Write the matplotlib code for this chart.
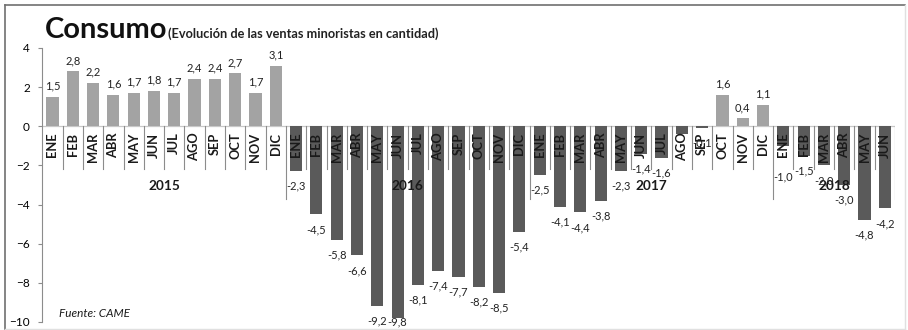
import numpy as np
import matplotlib
matplotlib.use('Agg')
import matplotlib.pyplot as plt
from matplotlib.lines import Line2D

plt.rcParams['font.family'] = ['Lato', 'DejaVu Sans']

YEARS = ['2015', '2016', '2017', '2018']
MONTHS = ['ENE', 'FEB', 'MAR', 'ABR', 'MAY', 'JUN',
          'JUL', 'AGO', 'SEP', 'OCT', 'NOV', 'DIC']
MONTHS_PER_YEAR = [12, 12, 12, 6]

VALUES_2015 = [1.5, 2.8, 2.2, 1.6, 1.7, 1.8, 1.7, 2.4, 2.4, 2.7, 1.7, 3.1]
VALUES_2016 = [-2.3, -4.5, -5.8, -6.6, -9.2, -9.8, -8.1, -7.4, -7.7, -8.2, -8.5, -5.4]
VALUES_2017 = [-2.5, -4.1, -4.4, -3.8, -2.3, -1.4, -1.6, -0.4, -0.1, 1.6, 0.4, 1.1]
VALUES_2018 = [-1.0, -1.5, -2.0, -3.0, -4.8, -4.2]

# labels that are hidden in the chart (value still drawn as a bar)
HIDDEN_LABELS = {(2017, 'AGO')}
# labels moved away from the month text
LABEL_Y_OVERRIDE = {(2018, 'ENE'): -2.6}

POS_COLOR = '#a3a3a3'
NEG_COLOR = '#5a5a5a'
AXIS_COLOR = '#8c8c8c'


def fmt(v):
    return f'{v:.1f}'.replace('.', ',')


def main():
    values = VALUES_2015 + VALUES_2016 + VALUES_2017 + VALUES_2018
    months = []
    years = []
    for y, n in zip(YEARS, MONTHS_PER_YEAR):
        months += MONTHS[:n]
        years += [int(y)] * n
    x = np.arange(len(values))

    fig = plt.figure(figsize=(9.08, 3.30), dpi=100)
    ax = fig.add_axes([42.3 / 908, 8 / 330, (895 - 42.3) / 908, (322 - 48) / 330])

    colors = [POS_COLOR if v > 0 else NEG_COLOR for v in values]
    ax.bar(x, values, width=0.6, color=colors, zorder=2)

    ax.set_xlim(-0.5, len(values) - 0.5)
    ax.set_ylim(-10, 4)
    ax.set_yticks(range(-10, 5, 2))
    ax.tick_params(axis='y', labelsize=8.5, length=3, color=AXIS_COLOR, pad=6)
    ax.set_xticks([])
    for s in ['top', 'right', 'bottom']:
        ax.spines[s].set_visible(False)
    ax.spines['left'].set_color(AXIS_COLOR)
    ax.axhline(0, color='#c8c8c8', lw=0.9, zorder=1)

    # month labels sitting just under the zero line
    for xi, m in zip(x, months):
        ax.text(xi, -0.33, m, rotation=90, ha='center', va='top',
                fontsize=9.3, fontweight='bold', color='#1a1a1a', zorder=3)

    # separators between months, longer ones between years
    edges = np.cumsum(MONTHS_PER_YEAR)
    for b in range(1, len(values) + 1):
        bound = b - 0.5
        low = -3.7 if b in edges else -2.2
        ax.plot([bound, bound], [0, low], color=AXIS_COLOR, lw=0.8, zorder=1)

    # year labels
    start = 0
    for y, n in zip(YEARS, MONTHS_PER_YEAR):
        ax.text(start + (n - 1) / 2, -3.05, y, ha='center', va='center',
                fontsize=9.8, fontweight='bold', color='#1a1a1a', zorder=3)
        start += n

    # value labels
    for xi, v, m, yr in zip(x, values, months, years):
        if (yr, m) in HIDDEN_LABELS:
            continue
        if v > 0:
            ly = v + 0.56
        else:
            ly = max(v - 0.77, -10.0)
        ly = LABEL_Y_OVERRIDE.get((yr, m), ly)
        ax.text(xi, ly, fmt(v), ha='center', va='center', fontsize=8,
                color='#222222', zorder=4, clip_on=False)

    ax.text(0.3, -9.55, 'Fuente: CAME', fontsize=8.5, style='italic',
            color='#1a1a1a', va='center', ha='left')

    fig.text(45 / 908, 1 - 38 / 330, 'Consumo', fontsize=21, fontweight='bold',
             va='baseline', ha='left', color='#111111')
    fig.text(168 / 908, 1 - 38 / 330, '(Evolución de las ventas minoristas en cantidad)',
             fontsize=9.2, fontweight='bold', va='baseline', ha='left', color='#222222')

    # outer frame
    fig.add_artist(Line2D([5 / 908, 905 / 908], [1 - 5 / 330, 1 - 5 / 330],
                          transform=fig.transFigure, color='#707070', lw=1.2))
    fig.add_artist(Line2D([5 / 908, 5 / 908], [1 / 330, 1 - 5 / 330],
                          transform=fig.transFigure, color='#707070', lw=1.2))
    fig.add_artist(Line2D([905 / 908, 905 / 908], [1 / 330, 1 - 5 / 330],
                          transform=fig.transFigure, color='#e0e0e0', lw=1))
    fig.add_artist(Line2D([5 / 908, 905 / 908], [1.5 / 330, 1.5 / 330],
                          transform=fig.transFigure, color='#e0e0e0', lw=1))

    fig.savefig('out.png', dpi=100)
    plt.close(fig)


if __name__ == '__main__':
    main()
